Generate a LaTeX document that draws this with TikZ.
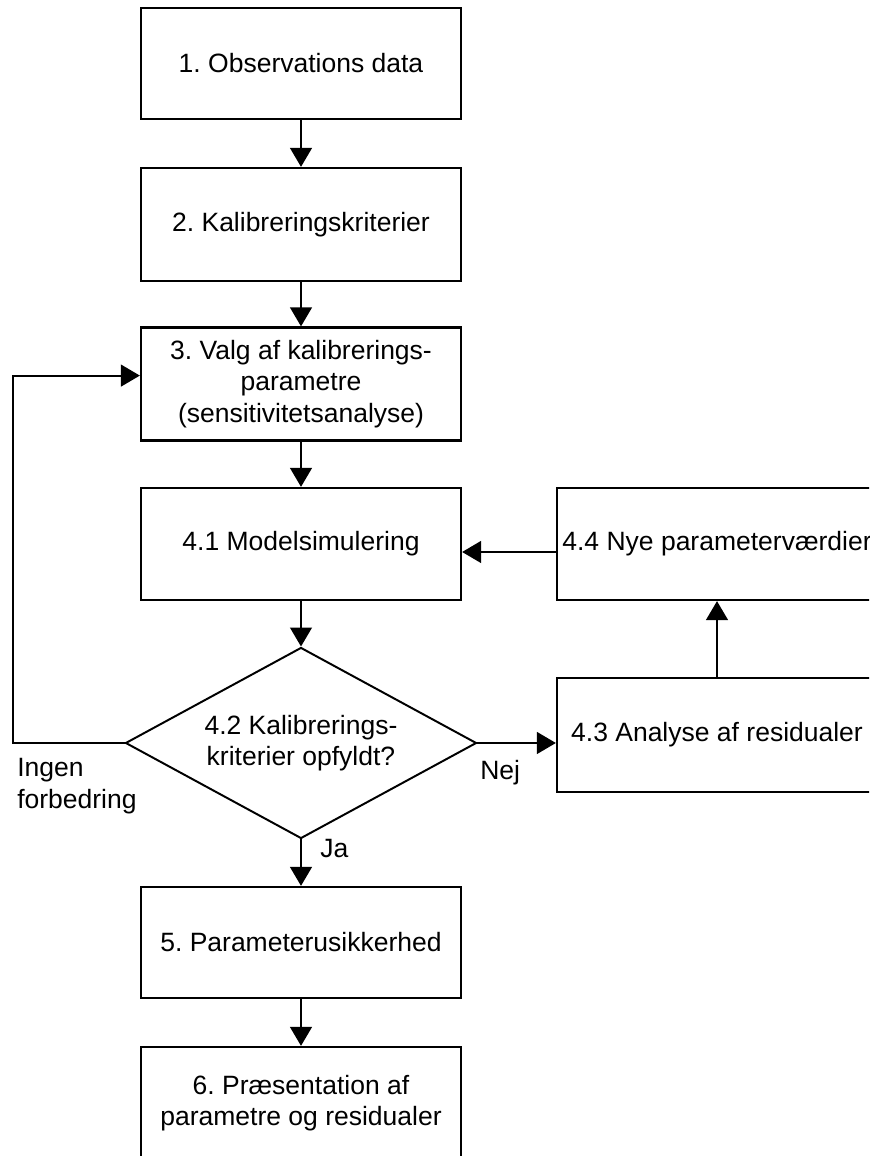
\documentclass[tikz,border=0pt]{standalone}
\usepackage{fontspec}
\setmainfont{Liberation Sans}
\usetikzlibrary{shapes.geometric,arrows.meta}
\frenchspacing

\begin{document}
\begin{tikzpicture}[font=\fontsize{18.85}{22.3}\selectfont,
  >={Triangle[length=13.5pt,width=15.5pt]},
  box/.style={draw, line width=1.6pt, minimum width=8cm, align=center, inner sep=0pt},
  dia/.style={draw, diamond, aspect=1.84, line width=1.4pt, minimum width=8.775cm, minimum height=4.775cm, align=center, inner sep=2pt},
  flow/.style={->, line width=1.4pt},
  lbl/.style={inner sep=0pt, align=left}]
\useasboundingbox (0,0) rectangle (21.725,28.9);
\clip (0,0) rectangle (21.725,28.9);

\node[box, minimum height=2.775cm] (A) at (7.525,27.3125) {1. Observations data};
\node[box, minimum height=2.825cm] (B) at (7.525,23.2875) {2. Kalibreringskriterier};
\node[box, minimum height=2.825cm] (C) at (7.525,19.3) {3. Valg af kalibrerings-\\parametre\\(sensitivitetsanalyse)};
\node[box, minimum height=2.8cm] (D) at (7.525,15.3) {4.1 Modelsimulering};
\node[dia] (E) at (7.525,10.325) {4.2 Kalibrerings-\\kriterier opfyldt?};
\node[box, minimum height=2.85cm] (F) at (17.925,10.525) {4.3 Analyse af residualer};
\node[box, minimum height=2.8cm] (G) at (17.925,15.3) {4.4 Nye parameterværdier};
\node[box, minimum height=2.775cm] (H) at (7.525,5.3375) {5. Parameterusikkerhed};
\node[box, minimum height=2.8cm] (I) at (7.525,1.325) {6. Præsentation af\\parametre og residualer};

\node[lbl, anchor=west] (J) at (0.425,9.25) {Ingen\\forbedring};
\node[lbl, anchor=base west] (K) at (12.0,9.4) {Nej};
\node[lbl, anchor=base west] (L) at (8.0,7.45) {Ja};

\coordinate (P) at (0.325,10.325);

\draw[flow] (A) -- (B);
\draw[flow] (B) -- (C);
\draw[flow] (C) -- (D);
\draw[flow] (D) -- (E);
\draw[flow] (E) -- (H);
\draw[flow] (H) -- (I);

\draw[flow] (E.east) -- (E.east -| F.west);
\draw[flow] (F) -- (G);
\draw[flow] ([yshift=-2mm]G.west) -- ([yshift=-2mm]D.east);

% loop back when nothing improves
\draw[flow] (E.west) -- (P) |- ([yshift=2.1mm]C.west);
\end{tikzpicture}
\end{document}
